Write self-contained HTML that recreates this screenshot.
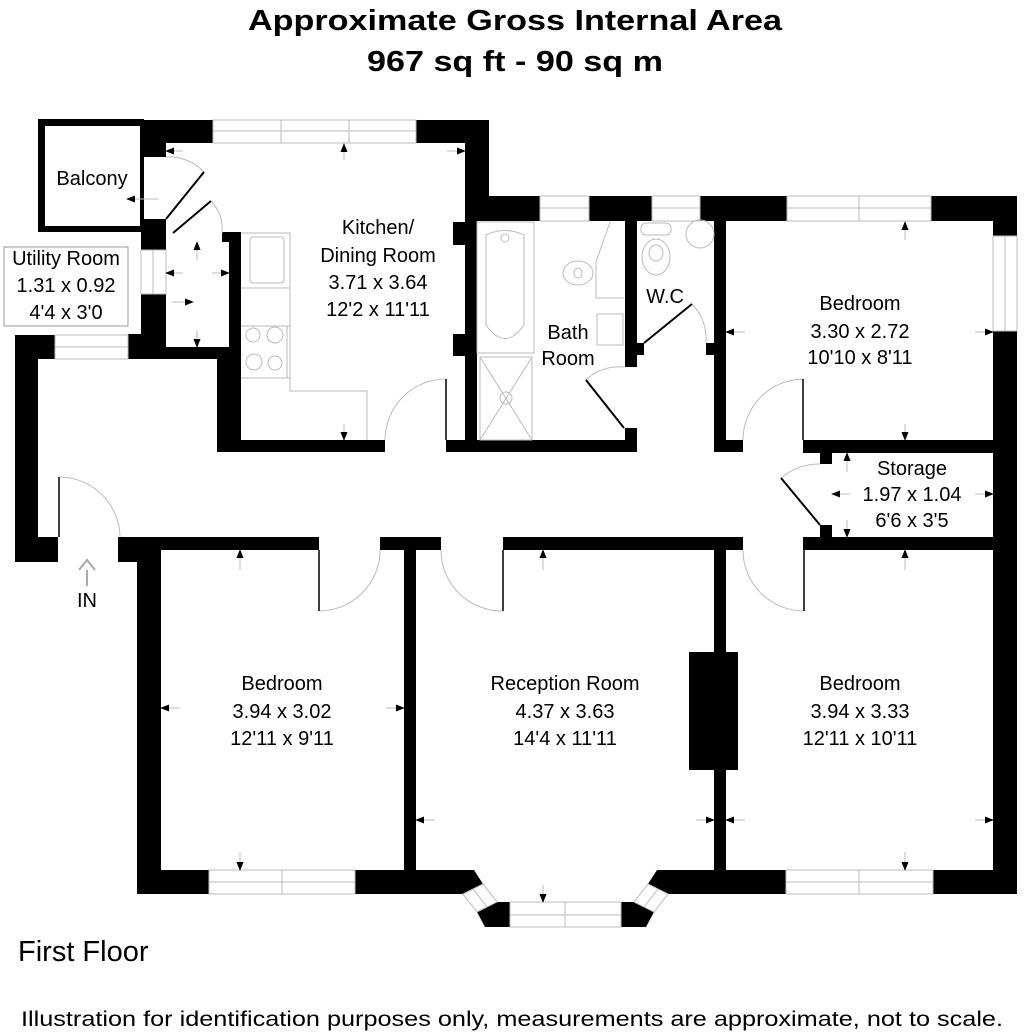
<!DOCTYPE html>
<html><head><meta charset="utf-8"><style>
html,body{margin:0;padding:0;background:#fff;}
svg{display:block;}
text{font-family:"Liberation Sans",sans-serif;fill:#000;}
</style></head><body>
<svg width="1024" height="1032" viewBox="0 0 1024 1032" xmlns="http://www.w3.org/2000/svg">
<defs>
<marker id="ah" viewBox="0 0 10 10" refX="9" refY="5" markerWidth="9" markerHeight="9" markerUnits="userSpaceOnUse" orient="auto"><path d="M0,1 L10,5 L0,9 z" fill="#000"/></marker>
</defs>
<text x="515" y="30" font-size="29" font-weight="bold" text-anchor="middle" textLength="534" lengthAdjust="spacingAndGlyphs">Approximate Gross Internal Area</text>
<text x="515" y="71" font-size="29" font-weight="bold" text-anchor="middle" textLength="296" lengthAdjust="spacingAndGlyphs">967 sq ft - 90 sq m</text>

<g fill="#000">
<path d="M38,119 H144 V232 H38 Z M45,126 V226 H140 V126 Z" fill-rule="evenodd"/>
<rect x="140" y="120" width="73" height="23"/>
<rect x="416" y="120" width="73" height="23"/>
<rect x="140" y="120" width="26" height="37"/>
<rect x="465" y="120" width="24" height="77"/>
<rect x="141" y="219" width="25" height="31"/>
<rect x="141" y="294" width="25" height="53"/>
<rect x="128" y="334" width="38" height="25"/>
<rect x="128" y="347" width="113" height="12"/>
<rect x="222" y="232" width="19" height="10"/>
<rect x="229" y="232" width="12" height="127"/>
<rect x="217" y="347" width="24" height="105"/>
<rect x="217" y="440" width="168" height="12"/>
<rect x="446" y="440" width="191" height="12"/>
<rect x="465" y="196" width="12" height="256"/>
<rect x="453" y="222" width="12" height="23"/>
<rect x="453" y="334" width="12" height="22"/>
<rect x="465" y="196" width="75" height="25"/>
<rect x="589" y="196" width="63" height="25"/>
<rect x="700" y="196" width="87" height="25"/>
<rect x="931" y="196" width="86" height="25"/>
<rect x="993" y="196" width="24" height="40"/>
<rect x="993" y="331" width="24" height="563"/>
<rect x="625" y="221" width="12" height="146"/>
<rect x="637" y="343" width="7" height="12"/>
<rect x="625" y="428" width="12" height="24"/>
<rect x="714" y="221" width="12" height="231"/>
<rect x="706" y="343" width="8" height="12"/>
<rect x="714" y="440" width="29" height="12"/>
<rect x="803" y="440" width="190" height="13"/>
<rect x="820" y="453" width="12" height="11"/>
<rect x="820" y="525" width="12" height="13"/>
<rect x="803" y="537" width="190" height="13"/>
<rect x="15" y="335" width="23" height="227"/>
<rect x="15" y="335" width="40" height="24"/>
<rect x="15" y="537" width="43" height="25"/>
<rect x="118" y="537" width="201" height="13"/>
<rect x="118" y="537" width="43" height="25"/>
<rect x="137" y="537" width="24" height="357"/>
<rect x="380" y="537" width="61" height="13"/>
<rect x="503" y="537" width="240" height="13"/>
<rect x="404" y="550" width="12" height="320"/>
<rect x="714" y="550" width="12" height="320"/>
<rect x="689" y="652" width="49" height="118"/>
<rect x="137" y="870" width="72" height="24"/>
<path d="M355,870 H474 L483,884 L463,894 H355 Z"/>
<path d="M477,912 L497,902 H510 V927 H485 Z"/>
<path d="M634,902 L654,912 L646,927 H621 V902 Z"/>
<path d="M657,870 L648,884 L668,894 H786 V870 Z"/>
<rect x="933" y="870" width="84" height="24"/>
</g>

<g fill="none" stroke="#bbb" stroke-width="1">
<rect x="213" y="120" width="203" height="23"/><line x1="213" y1="131" x2="416" y2="131"/><line x1="281" y1="120" x2="281" y2="143"/><line x1="349" y1="120" x2="349" y2="143"/>
<rect x="141" y="250" width="25" height="44"/><line x1="153" y1="250" x2="153" y2="294"/>
<rect x="55" y="335" width="73" height="24"/><line x1="55" y1="347" x2="128" y2="347"/>
<rect x="540" y="196" width="49" height="25"/><line x1="540" y1="208" x2="589" y2="208"/>
<rect x="652" y="196" width="48" height="25"/><line x1="652" y1="208" x2="700" y2="208"/>
<rect x="787" y="196" width="144" height="25"/><line x1="787" y1="208" x2="931" y2="208"/><line x1="859" y1="196" x2="859" y2="221"/>
<rect x="993" y="236" width="24" height="95"/><line x1="1005" y1="236" x2="1005" y2="331"/>
<rect x="209" y="870" width="146" height="24"/><line x1="209" y1="882" x2="355" y2="882"/><line x1="282" y1="870" x2="282" y2="894"/>
<rect x="786" y="870" width="147" height="24"/><line x1="786" y1="882" x2="933" y2="882"/><line x1="859" y1="870" x2="859" y2="894"/>
<rect x="510" y="902" width="111" height="25"/><line x1="510" y1="915" x2="621" y2="915"/><line x1="565" y1="902" x2="565" y2="927"/>
<path d="M463,894 L483,884 L497,902 L477,912 Z M473,889 L487,907"/>
<path d="M668,894 L648,884 L634,902 L654,912 Z M658,889 L644,907"/>
<rect x="4" y="247" width="124" height="79" stroke="#999"/>
<path d="M166,157 A48,48 0 0 1 204,172"/>
<path d="M211,201 A40,40 0 0 1 222,233"/>
<path d="M446,379 A61,61 0 0 0 385,440"/>
<path d="M624,367 A48,48 0 0 0 586,380"/>
<path d="M692,304 A50,50 0 0 1 706,343"/>
<path d="M803,379 A61,61 0 0 0 743,440"/>
<path d="M820,464 A60,60 0 0 0 781,478"/>
<path d="M59,477 A61,61 0 0 1 120,537"/>
<path d="M319,611 A61,61 0 0 0 380,550"/>
<path d="M503,611 A61,61 0 0 1 441,550"/>
<path d="M804,611 A61,61 0 0 1 743,550"/>
<path d="M241,233 H290 V391 H367 V440"/>
<line x1="241" y1="288" x2="290" y2="288"/><line x1="241" y1="326" x2="290" y2="326"/><line x1="241" y1="378" x2="290" y2="378"/>
<rect x="250" y="237" width="34" height="46" rx="3"/>
<circle cx="253" cy="335" r="7"/><circle cx="275" cy="335" r="8"/><circle cx="254" cy="362" r="8"/><circle cx="275" cy="363" r="7"/>
<line x1="287" y1="326" x2="287" y2="378"/>
<rect x="477" y="222" width="57" height="131"/>
<path d="M486,235 Q505,226 524,235 L524,325 Q505,352 486,325 Z"/>
<circle cx="505" cy="238" r="4"/>
<rect x="480" y="357" width="52" height="83"/>
<path d="M480,357 L532,440 M532,357 L480,440"/>
<circle cx="506" cy="398" r="6"/>
<path d="M610,222 L596,262 V298 H624"/>
<ellipse cx="578" cy="273" rx="15" ry="12"/><ellipse cx="578" cy="273" rx="4" ry="5"/>
<rect x="597" y="314" width="26" height="31"/>
<ellipse cx="656" cy="257" rx="14" ry="18"/><ellipse cx="656" cy="253" rx="7" ry="8"/>
<rect x="641" y="223" width="30" height="12" rx="5"/>
<circle cx="700" cy="234" r="14"/>
<path d="M87,586 V570 M79,570 L87,560 L95,570 M82,566 L87,560 L92,566" stroke="#aaa" stroke-width="2"/>
</g>

<g stroke="#000" stroke-width="2">
<line x1="166" y1="219" x2="204" y2="172"/>
<line x1="173" y1="233" x2="211" y2="201"/>
<line x1="446" y1="379" x2="446" y2="440" stroke-width="1.5"/>
<line x1="624" y1="428" x2="586" y2="380"/>
<line x1="644" y1="343" x2="692" y2="304"/>
<line x1="803" y1="379" x2="803" y2="440" stroke-width="1.5"/>
<line x1="820" y1="525" x2="781" y2="478"/>
<line x1="59" y1="477" x2="59" y2="537" stroke-width="1.5"/>
<line x1="319" y1="550" x2="319" y2="611" stroke-width="1.5"/>
<line x1="503" y1="550" x2="503" y2="611" stroke-width="1.5"/>
<line x1="804" y1="550" x2="804" y2="611" stroke-width="1.5"/>
</g>

<g stroke="#bbb" stroke-width="1" marker-end="url(#ah)">
<line x1="344" y1="160" x2="344" y2="144"/>
<line x1="344" y1="424" x2="344" y2="440"/>
<line x1="183" y1="151" x2="166" y2="151"/>
<line x1="447" y1="151" x2="465" y2="151"/>
<line x1="158" y1="199" x2="127" y2="199"/>
<line x1="197" y1="260" x2="197" y2="242"/>
<line x1="197" y1="330" x2="197" y2="347"/>
<line x1="183" y1="273" x2="166" y2="273"/>
<line x1="212" y1="273" x2="229" y2="273"/>
<line x1="172" y1="302" x2="193" y2="302"/>
<line x1="905" y1="240" x2="905" y2="222"/>
<line x1="905" y1="424" x2="905" y2="440"/>
<line x1="745" y1="332" x2="726" y2="332"/>
<line x1="975" y1="332" x2="993" y2="332"/>
<line x1="847" y1="472" x2="847" y2="453"/>
<line x1="847" y1="520" x2="847" y2="537"/>
<line x1="850" y1="494" x2="832" y2="494"/>
<line x1="975" y1="494" x2="993" y2="494"/>
<line x1="240" y1="570" x2="240" y2="550"/>
<line x1="240" y1="852" x2="240" y2="870"/>
<line x1="180" y1="708" x2="161" y2="708"/>
<line x1="386" y1="708" x2="404" y2="708"/>
<line x1="543" y1="570" x2="543" y2="550"/>
<line x1="543" y1="885" x2="543" y2="902"/>
<line x1="435" y1="820" x2="416" y2="820"/>
<line x1="696" y1="820" x2="714" y2="820"/>
<line x1="905" y1="570" x2="905" y2="550"/>
<line x1="905" y1="852" x2="905" y2="870"/>
<line x1="745" y1="820" x2="726" y2="820"/>
<line x1="975" y1="820" x2="993" y2="820"/>
</g>

<g font-size="20" text-anchor="middle">
<text x="92" y="185">Balcony</text>
<text x="66" y="265">Utility Room</text>
<text x="66" y="292">1.31 x 0.92</text>
<text x="66" y="319">4'4 x 3'0</text>
<text x="378" y="234">Kitchen/</text>
<text x="378" y="262">Dining Room</text>
<text x="378" y="289">3.71 x 3.64</text>
<text x="378" y="316">12'2 x 11'11</text>
<text x="568" y="339">Bath</text>
<text x="568" y="365">Room</text>
<text x="665" y="303">W.C</text>
<text x="860" y="310">Bedroom</text>
<text x="860" y="338">3.30 x 2.72</text>
<text x="860" y="364">10'10 x 8'11</text>
<text x="912" y="475">Storage</text>
<text x="912" y="501">1.97 x 1.04</text>
<text x="912" y="527">6'6 x 3'5</text>
<text x="282" y="690">Bedroom</text>
<text x="282" y="718">3.94 x 3.02</text>
<text x="282" y="745">12'11 x 9'11</text>
<text x="565" y="690">Reception Room</text>
<text x="565" y="718">4.37 x 3.63</text>
<text x="565" y="745">14'4 x 11'11</text>
<text x="860" y="690">Bedroom</text>
<text x="860" y="718">3.94 x 3.33</text>
<text x="860" y="745">12'11 x 10'11</text>
<text x="87" y="607">IN</text>
</g>
<text x="18" y="961" font-size="29">First Floor</text>
<text x="512" y="1026" font-size="21" text-anchor="middle" textLength="982" lengthAdjust="spacingAndGlyphs" fill="#111">Illustration for identification purposes only, measurements are approximate, not to scale.</text>
</svg>
</body></html>
